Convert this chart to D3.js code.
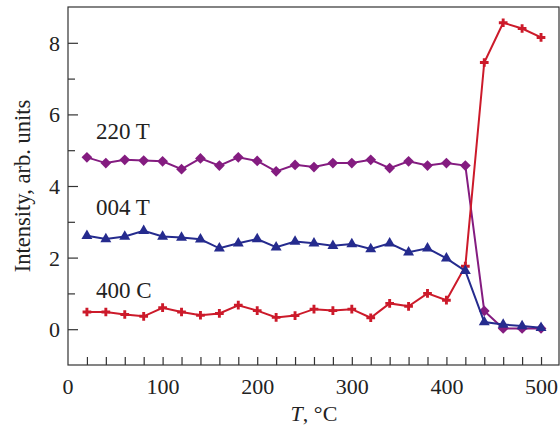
<!DOCTYPE html>
<html>
<head>
<meta charset="utf-8">
<script src="https://cdn.jsdelivr.net/npm/d3@7"></script>
<style>
  body { margin: 0; background: #fff; }
  text { font-family: "Liberation Serif", "Times New Roman", serif; fill: #222; }
</style>
</head>
<body>
<div id="chart"></div>
<script>
// temperatures, deg C
var temps = [20, 40, 60, 80, 100, 120, 140, 160, 180, 200, 220, 240, 260,
             280, 300, 320, 340, 360, 380, 400, 420, 440, 460, 480, 500];

var i220T = [4.80, 4.64, 4.73, 4.71, 4.69, 4.47, 4.77, 4.57, 4.80, 4.70, 4.41, 4.59, 4.53,
             4.64, 4.64, 4.73, 4.50, 4.69, 4.57, 4.64, 4.57, 0.51, 0.02, 0.02, 0.02];
var i004T = [2.61, 2.52, 2.59, 2.75, 2.59, 2.56, 2.51, 2.26, 2.40, 2.52, 2.29, 2.45, 2.40,
             2.33, 2.38, 2.24, 2.40, 2.15, 2.26, 1.98, 1.63, 0.20, 0.13, 0.09, 0.04];
var i400C = [0.48, 0.48, 0.41, 0.36, 0.60, 0.48, 0.39, 0.44, 0.67, 0.52, 0.33, 0.38, 0.56,
             0.52, 0.56, 0.32, 0.72, 0.64, 1.00, 0.81, 1.76, 7.45, 8.56, 8.40, 8.15];

var xTicks = [0, 100, 200, 300, 400, 500];
var yTicks = [0, 2, 4, 6, 8];

var svgWidth = 560;
var svgHeight = 430;
var margin = { top: 7, right: 1, bottom: 65, left: 68 };
var width = svgWidth - margin.left - margin.right;
var height = svgHeight - margin.top - margin.bottom;

var svg = d3.select("#chart")
    .append("svg")
    .attr("width", svgWidth)
    .attr("height", svgHeight);

var chartGroup = svg.append("g")
    .attr("transform", `translate(${margin.left}, ${margin.top})`);

var xScale = d3.scaleLinear().domain([0, 519]).range([0, width]);
var yScale = d3.scaleLinear().domain([-1, 9]).range([height, 0]);

// frame
chartGroup.append("rect")
    .attr("width", width)
    .attr("height", height)
    .attr("fill", "none")
    .attr("stroke", "#333")
    .attr("stroke-width", 1.2);

// x axis: minor every 20, labels every 100, ticks pointing up
var xMinor = d3.range(20, 501, 20);
var xAxis = d3.axisBottom(xScale)
    .tickValues(xMinor)
    .tickSize(-8)
    .tickFormat(function(d) { return d % 100 === 0 ? d : ""; });
var gx = chartGroup.append("g")
    .attr("transform", `translate(0, ${height})`)
    .call(xAxis);
gx.select(".domain").remove();
gx.selectAll(".tick line").attr("stroke", "#333").attr("stroke-width", 1.2);
gx.selectAll(".tick text").attr("font-size", 22).attr("y", 3).attr("dy", "1.2em");
// label at 0 (no tick mark there, it is the corner)
gx.append("text")
    .attr("x", xScale(xTicks[0]))
    .attr("y", 3)
    .attr("dy", "1.2em")
    .attr("text-anchor", "middle")
    .attr("font-size", 22)
    .text(xTicks[0]);

// y axis: ticks every 1, labels every 2
var yAxis = d3.axisLeft(yScale)
    .tickValues(d3.range(0, 9))
    .tickSize(0)
    .tickFormat(function(d) { return yTicks.indexOf(d) >= 0 ? d : ""; });
var gy = chartGroup.append("g").call(yAxis);
gy.select(".domain").remove();
gy.selectAll(".tick line")
    .attr("x2", function(d) { return d % 2 === 0 ? 10 : 7; })
    .attr("stroke", "#333").attr("stroke-width", 1.2);
gy.selectAll(".tick text").attr("font-size", 22).attr("x", -8).attr("dy", "0.34em");

// series
var series = [
    { name: "220 T", values: i220T, color: "#841c80", symbol: d3.symbolSquare, size: 58, rotate: 45, labelY: 5.32 },
    { name: "400 C", values: i400C, color: "#cc1a2a", symbol: d3.symbolCross, size: 42, rotate: 0, labelY: 0.87 },
    { name: "004 T", values: i004T, color: "#252b8e", symbol: d3.symbolTriangle, size: 52, rotate: 0, labelY: 3.19 }
];

var line = d3.line()
    .x(function(d) { return xScale(d[0]); })
    .y(function(d) { return yScale(d[1]); });

series.forEach(function(s) {
    var pts = temps.map(function(t, i) { return [t, s.values[i]]; });
    chartGroup.append("path")
        .datum(pts)
        .attr("d", line)
        .attr("fill", "none")
        .attr("stroke", s.color)
        .attr("stroke-width", 2);
    chartGroup.selectAll(null)
        .data(pts)
        .enter()
        .append("path")
        .attr("d", d3.symbol().type(s.symbol).size(s.size))
        .attr("transform", function(d) {
            return `translate(${xScale(d[0])}, ${yScale(d[1])}) rotate(${s.rotate})`;
        })
        .attr("fill", s.color);
    chartGroup.append("text")
        .attr("x", 28)
        .attr("y", yScale(s.labelY))
        .attr("font-size", 23)
        .text(s.name);
});

// axis titles
svg.append("text")
    .attr("transform", `translate(30, ${margin.top + yScale(4)}) rotate(-90)`)
    .attr("text-anchor", "middle")
    .attr("font-size", 22.5)
    .text("Intensity, arb. units");

var xt = svg.append("text")
    .attr("x", margin.left + xScale(260))
    .attr("y", 421)
    .attr("text-anchor", "middle")
    .attr("font-size", 22);
xt.append("tspan").attr("font-style", "italic").text("T");
xt.append("tspan").text(", \u00B0C");
</script>
</body>
</html>
